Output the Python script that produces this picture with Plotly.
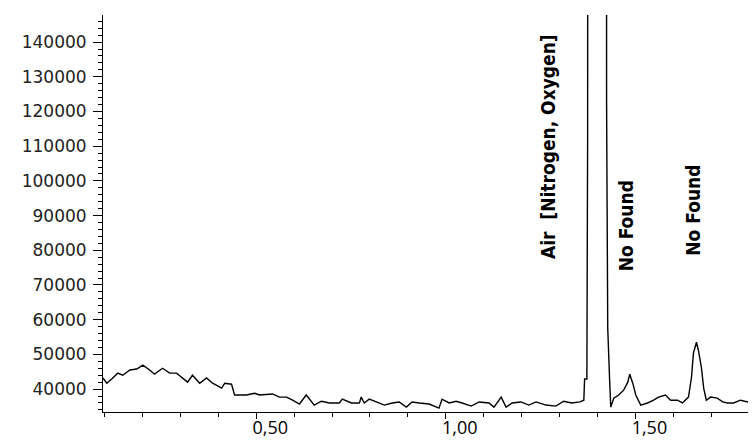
import plotly.graph_objects as go

# Retention time (min) and detector signal
time_min = [0.096, 0.106, 0.119, 0.135, 0.148, 0.167, 0.185, 0.201, 0.219, 0.232,
            0.253, 0.272, 0.290, 0.306, 0.319, 0.332, 0.351, 0.369, 0.385, 0.409,
            0.417, 0.435, 0.443, 0.474, 0.496, 0.509, 0.543, 0.561, 0.580, 0.596,
            0.614, 0.632, 0.653, 0.672, 0.693, 0.719, 0.727, 0.751, 0.772, 0.777,
            0.785, 0.798, 0.817, 0.838, 0.859, 0.877, 0.896, 0.911, 0.930, 0.956,
            0.982, 0.990, 1.009, 1.027, 1.043, 1.067, 1.088, 1.114, 1.127, 1.146,
            1.159, 1.175, 1.198, 1.219, 1.238, 1.264, 1.290, 1.311, 1.332, 1.354,
            1.364, 1.366, 1.372, 1.374, 1.377, 1.400, 1.422, 1.424, 1.427, 1.432,
            1.435, 1.443, 1.456, 1.469, 1.480, 1.485, 1.493, 1.501, 1.514, 1.532,
            1.548, 1.561, 1.579, 1.593, 1.611, 1.624, 1.640, 1.648, 1.653, 1.661,
            1.666, 1.674, 1.680, 1.687, 1.698, 1.716, 1.730, 1.743, 1.759, 1.777,
            1.796, 1.810, 1.818]
signal = [43200, 41700, 42900, 44600, 44000, 45500, 45800, 46900, 45500, 44300,
          46000, 44600, 44600, 43200, 42000, 44000, 41700, 43200, 41700, 40300,
          41700, 41400, 38300, 38300, 38800, 38300, 38600, 37700, 37700, 36800,
          35700, 38300, 35400, 36500, 36000, 36000, 37100, 36000, 36000, 37700,
          36000, 37100, 36300, 35400, 36000, 36300, 34800, 36300, 36000, 35700,
          34500, 37100, 36000, 36500, 36000, 35100, 36300, 36000, 34800, 37700,
          34800, 36000, 36300, 35400, 36300, 35400, 35100, 36500, 36000, 36300,
          36800, 42900, 42900, 113000, 900000, 2000000, 900000, 122400, 57600, 42600,
          34800, 37400, 38300, 39700, 42000, 44300, 41700, 38300, 35400, 36000,
          36800, 37700, 38300, 36800, 36800, 36000, 37700, 43500, 50400, 53500,
          51200, 46300, 40300, 36800, 37700, 37400, 36300, 36000, 36000, 36800,
          36300, 37700, 38300]

x_tick_vals = [0.5, 1.0, 1.5]
x_tick_text = ["0,50", "1,00", "1,50"]
y_tick_vals = [40000, 50000, 60000, 70000, 80000, 90000, 100000, 110000,
               120000, 130000, 140000]
y_tick_text = ["40000", "50000", "60000", "70000", "80000", "90000", "100000",
               "110000", "120000", "130000", "140000"]

peak_labels = ["Air  [Nitrogen, Oxygen]", "No Found", "No Found"]
label_x = [1.270, 1.476, 1.651]
label_y = [109800, 87000, 91600]

fig = go.Figure()
fig.add_trace(go.Scatter(x=time_min, y=signal, mode="lines",
                         line=dict(color="black", width=1.4),
                         hoverinfo="skip", showlegend=False))

label_font = dict(family="Liberation Sans Narrow, DejaVu Sans Condensed, Arial Narrow, DejaVu Sans",
                  size=19, color="black")
for txt, lx, ly in zip(peak_labels, label_x, label_y):
    fig.add_annotation(x=lx, y=ly, text="<b>" + txt + "</b>", textangle=-90,
                       showarrow=False, xanchor="center", yanchor="middle",
                       font=label_font)

# the page body adds an 8px offset, so the figure is sized to fit the window
fig.update_layout(
    width=748, height=433,
    margin=dict(l=95, r=0, t=7, b=29),
    paper_bgcolor="white", plot_bgcolor="white",
    showlegend=False,
    xaxis=dict(range=[0.096, 1.818], showgrid=False, zeroline=False,
               automargin=False,
               showline=True, linecolor="black", linewidth=1,
               tickvals=x_tick_vals, ticktext=x_tick_text,
               ticks="outside", ticklen=6, tickcolor="black", tickwidth=1,
               ticklabelshift=14, ticklabelstandoff=-7,
               tickfont=dict(family="Open Sans", size=18, color="black"),
               minor=dict(dtick=0.1, tick0=0, ticks="outside", ticklen=4,
                          tickcolor="black", tickwidth=1, showgrid=False)),
    yaxis=dict(range=[33400, 147800], showgrid=False, zeroline=False,
               automargin=False,
               showline=True, linecolor="black", linewidth=1,
               tickvals=y_tick_vals, ticktext=y_tick_text,
               ticks="outside", ticklen=9, tickcolor="black", tickwidth=1,
               ticklabelstandoff=3,
               tickfont=dict(family="DejaVu Sans", size=17, color="#222"),
               minor=dict(dtick=2000, tick0=0, ticks="outside", ticklen=4,
                          tickcolor="black", tickwidth=1, showgrid=False)),
)

fig.write_html("out.html")
